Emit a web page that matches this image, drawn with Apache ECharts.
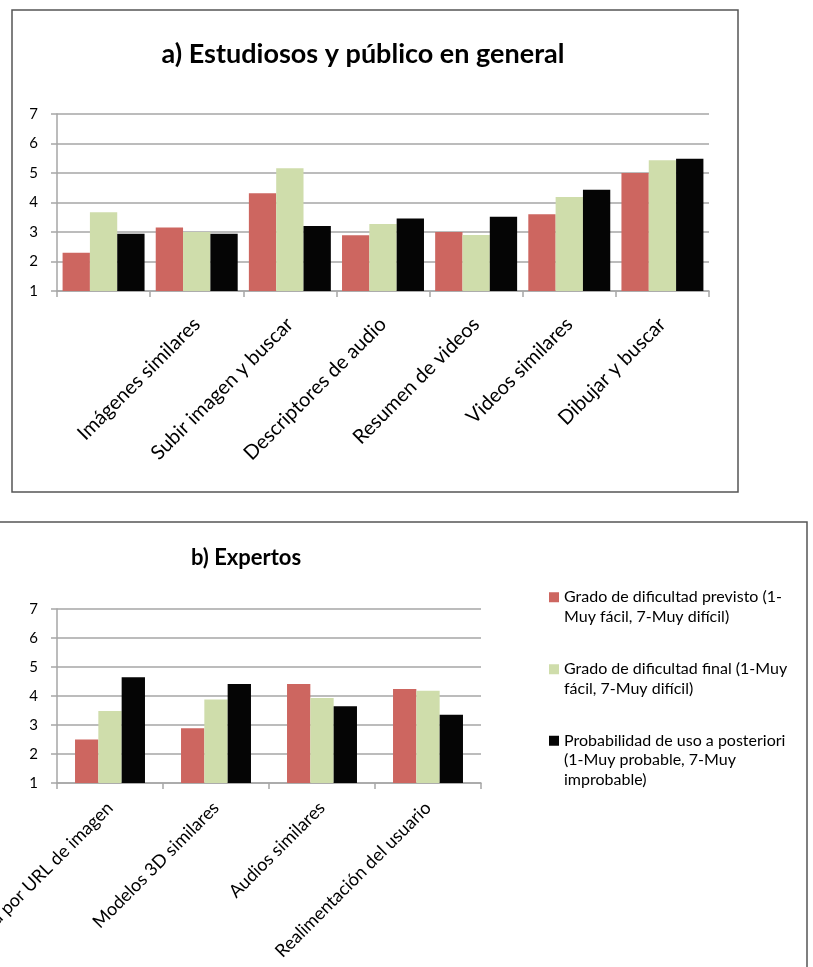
<!DOCTYPE html>
<html>
<head>
<meta charset="utf-8">
<title>Dificultad y probabilidad de uso</title>
<script src="https://cdn.jsdelivr.net/npm/echarts@6/dist/echarts.min.js"></script>
<style>
  html, body { margin: 0; padding: 0; background: #fff; }
  #chart { width: 813px; height: 967px; }
</style>
</head>
<body>
<div id="chart"></div>
<script>
// series names
var serieNames = [
    'Grado de dificultad previsto (1-Muy fácil, 7-Muy difícil)',
    'Grado de dificultad final (1-Muy fácil, 7-Muy difícil)',
    'Probabilidad de uso a posteriori (1-Muy probable, 7-Muy improbable)'
];
// how the legend wraps each name
var legendLines = [
    ['Grado de dificultad previsto (1-', 'Muy fácil, 7-Muy difícil)'],
    ['Grado de dificultad final (1-Muy', 'fácil, 7-Muy difícil)'],
    ['Probabilidad de uso a posteriori', '(1-Muy probable, 7-Muy', 'improbable)']
];
var colores = ['#cd6660', '#cfddab', '#050505'];

// a) Estudiosos y público en general (first group has no label)
var catsA = ['', 'Imágenes similares', 'Subir imagen y buscar', 'Descriptores de audio',
    'Resumen de videos', 'Videos similares', 'Dibujar y buscar'];
var previstoA = [2.3, 3.15, 4.31, 2.89, 3.0, 3.6, 5.0];
var finalA = [3.67, 3.0, 5.16, 3.27, 2.9, 4.19, 5.43];
var usoA = [2.94, 2.94, 3.2, 3.46, 3.52, 4.43, 5.48];

// b) Expertos
var catsB = ['Búsqueda por URL de imagen', 'Modelos 3D similares', 'Audios similares',
    'Realimentación del usuario'];
var previstoB = [2.5, 2.89, 4.41, 4.24];
var finalB = [3.48, 3.88, 3.93, 4.18];
var usoB = [4.65, 4.41, 3.65, 3.35];

var yTicks = [1, 2, 3, 4, 5, 6, 7];

var font = 'Lato, "Open Sans", sans-serif';
var gris = '#a6a6a6';

function ejeY(grid) {
    return {
        type: 'value',
        gridIndex: grid,
        min: yTicks[0],
        max: yTicks[yTicks.length - 1],
        interval: 1,
        axisLine: {show: true, lineStyle: {color: gris, width: 1.5}},
        axisTick: {show: true, length: 6, lineStyle: {color: gris, width: 1.5}},
        axisLabel: {color: '#000', fontSize: 15, fontFamily: font, margin: 19},
        splitLine: {lineStyle: {color: gris, width: 1.5}}
    };
}

function ejeX(grid, cats, size, margen) {
    return {
        type: 'category',
        gridIndex: grid,
        data: cats,
        axisLine: {lineStyle: {color: gris, width: 1.5}},
        axisTick: {show: true, interval: 0, length: 6, lineStyle: {color: gris, width: 1.5}},
        axisLabel: {interval: 0, rotate: 45, color: '#000', fontSize: size, fontFamily: font, margin: margen}
    };
}

function barras(grid, datos, gap) {
    return datos.map(function(d, i) {
        return {
            name: serieNames[i],
            type: 'bar',
            xAxisIndex: grid,
            yAxisIndex: grid,
            data: d,
            barGap: '0%',
            barCategoryGap: gap,
            itemStyle: {color: colores[i]},
            silent: true
        };
    });
}

// blank lines in front so the marker sits on the first line
var leyendaTop = [568, 640, 692];
var legends = serieNames.map(function(n, i) {
    var lines = legendLines[i];
    var texto = new Array(lines.length).join(' \n') + lines.join('\n');
    return {
        data: [n],
        left: 549,
        top: leyendaTop[i],
        padding: 0,
        orient: 'vertical',
        icon: 'rect',
        itemWidth: 10,
        itemHeight: 10,
        selectedMode: false,
        formatter: function() { return texto; },
        textStyle: {color: '#000', fontSize: 16, fontFamily: font, lineHeight: 19.5}
    };
});

var chart = echarts.init(document.getElementById('chart'));
chart.setOption({
    animation: false,
    backgroundColor: '#fff',
    graphic: [
        {type: 'rect', shape: {x: 12, y: 10, width: 726, height: 482}, style: {fill: 'none', stroke: '#555', lineWidth: 1.5}, z: -1},
        {type: 'rect', shape: {x: -2, y: 522, width: 809, height: 470}, style: {fill: 'none', stroke: '#555', lineWidth: 1.5}, z: -1}
    ],
    title: [
        {text: 'a) Estudiosos y público en general', left: 358, top: 36, textAlign: 'center',
         textStyle: {fontSize: 27, fontWeight: 'bold', color: '#000', fontFamily: font}},
        {text: 'b) Expertos', left: 241, top: 542, textAlign: 'center',
         textStyle: {fontSize: 22, fontWeight: 'bold', color: '#000', fontFamily: font}}
    ],
    legend: legends,
    grid: [
        {left: 57, width: 652, top: 114, height: 177, outerBoundsMode: 'none', containLabel: false},
        {left: 57, width: 424, top: 609, height: 174, outerBoundsMode: 'none', containLabel: false}
    ],
    xAxis: [ejeX(0, catsA, 20, 30), ejeX(1, catsB, 18, 22)],
    yAxis: [ejeY(0), ejeY(1)],
    series: barras(0, [previstoA, finalA, usoA], '12%')
        .concat(barras(1, [previstoB, finalB, usoB], '34%'))
});
</script>
</body>
</html>
